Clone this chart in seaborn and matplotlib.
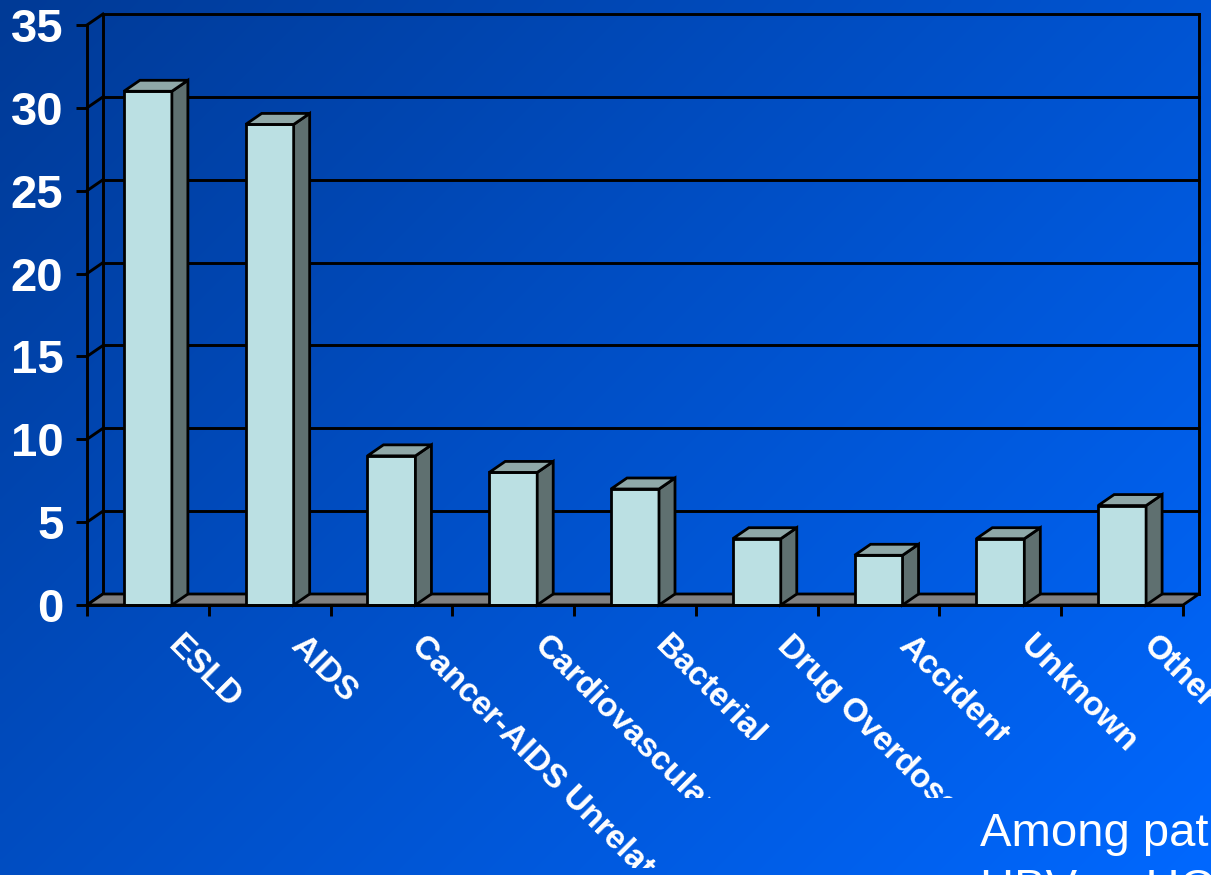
import numpy as np
import pandas as pd
import matplotlib
matplotlib.use("Agg")
import matplotlib.pyplot as plt
import seaborn as sns
from matplotlib.patches import Polygon
from matplotlib.transforms import Bbox

# ---- data ----
categories = ["ESLD", "AIDS", "Cancer-AIDS Unrelated", "Cardiovascular", "Bacterial",
              "Drug Overdose", "Accident", "Unknown", "Other"]
values = [31, 29, 9, 8, 7, 4, 3, 4, 6]
yticks = [0, 5, 10, 15, 20, 25, 30, 35]
note_lines = ["Among patients with", "HBV or HCV coinfection"]

# ---- style ----
sns.set_theme(style="white")
plt.rcParams["font.family"] = ["Liberation Sans", "DejaVu Sans"]

FRONT = "#BBE0E3"
SIDE = "#5F7070"
TOP = "#8FA8A8"
FLOOR = "#808080"

W, H, DPI = 1211, 875, 100
fig = plt.figure(figsize=(W / DPI, H / DPI), dpi=DPI)

# gradient background
bg = fig.add_axes([0, 0, 1, 1], zorder=-10)
gy, gx = np.mgrid[0:1:200j, 0:1:280j]
t = (gx * W + gy * H) / (W + H)
c0 = np.array([0, 58, 150]) / 255.0
c1 = np.array([0, 104, 255]) / 255.0
img = c0[None, None, :] * (1 - t[..., None]) + c1[None, None, :] * t[..., None]
bg.imshow(img, aspect="auto", extent=[0, 1, 0, 1], interpolation="bilinear")
bg.set_axis_off()

# main axes: front plane
L, R, B, T = 87, 1183, 605, 25
ax = fig.add_axes([L / W, (H - B) / H, (R - L) / W, (B - T) / H], zorder=0)
ax.set_facecolor("none")

df = pd.DataFrame({"cause": categories, "pct": values})
sns.barplot(data=df, x="cause", y="pct", ax=ax, color=FRONT, saturation=1,
            edgecolor="black", linewidth=2, width=0.394, zorder=3)
bars = list(ax.patches)

n = len(categories)
ax.set_xlim(-0.5, n - 0.5)
ax.set_ylim(0, 35)

# depth in data units (16 px right, 11 px up)
dx = 16 / ((R - L) / n)
dy = 11 / ((B - T) / 35)

lk = dict(color="black", lw=2.1, clip_on=False, solid_capstyle="projecting")
# back wall gridlines and diagonals
for v in yticks:
    ax.plot([-0.5 + dx, n - 0.5 + dx], [v + dy, v + dy], zorder=0.5, **lk)
    ax.plot([-0.5, -0.5 + dx], [v, v + dy], zorder=0.5, **lk)
ax.plot([-0.5 + dx, -0.5 + dx], [dy, 35 + dy], zorder=0.5, **lk)
ax.plot([n - 0.5 + dx, n - 0.5 + dx], [dy, 35 + dy], zorder=0.5, **lk)

# floor
floor = Polygon([(-0.5, 0), (n - 0.5, 0), (n - 0.5 + dx, dy), (-0.5 + dx, dy)],
                closed=True, facecolor=FLOOR, edgecolor="black", lw=2,
                zorder=1, clip_on=False)
ax.add_patch(floor)

# 3D faces of bars
for p in bars:
    x0, w, h = p.get_x(), p.get_width(), p.get_height()
    side = Polygon([(x0 + w, 0), (x0 + w + dx, dy), (x0 + w + dx, h + dy), (x0 + w, h)],
                   closed=True, facecolor=SIDE, edgecolor="black", lw=2,
                   zorder=3, clip_on=False, joinstyle="miter")
    top = Polygon([(x0, h), (x0 + dx, h + dy), (x0 + w + dx, h + dy), (x0 + w, h)],
                  closed=True, facecolor=TOP, edgecolor="black", lw=2,
                  zorder=3, clip_on=False, joinstyle="miter")
    ax.add_patch(side)
    ax.add_patch(top)
    p.set_clip_on(False)

# spines
for s in ["top", "right", "bottom"]:
    ax.spines[s].set_visible(False)
ax.spines["left"].set_color("black")
ax.spines["left"].set_linewidth(2.1)
ax.axhline(0, color="black", lw=2.1, zorder=3.5, clip_on=False)

# ticks
ax.set_yticks(yticks)
ax.set_yticklabels([str(v) for v in yticks])
ax.tick_params(axis="y", length=8, width=2.1, color="black", pad=9,
               labelsize=34, labelcolor="white", left=True)
for lab in ax.get_yticklabels():
    lab.set_fontweight("bold")

ax.set_xticks(np.arange(-0.5, n, 1.0))
ax.set_xticklabels([])
ax.tick_params(axis="x", length=8, width=2.1, color="black", direction="out", bottom=True)
ax.set_xlabel("")
ax.set_ylabel("")
ax.grid(False)

# category labels, rotated (clipped like the reference's label boxes)
clip_rows = {"Cancer-AIDS Unrelated": 868, "Cardiovascular": 798, "Bacterial": 740,
             "Drug Overdose": 798, "Accident": 740}
for i, lab in enumerate(categories):
    a = ax.annotate(lab, xy=(i, 0), xycoords="data", xytext=(36, -25),
                    textcoords="offset pixels", rotation=-45, rotation_mode="anchor",
                    ha="left", va="top", fontsize=24, fontweight="bold",
                    color="white", annotation_clip=False)
    clip_y = clip_rows.get(lab, H)
    a.set_clip_box(Bbox.from_extents(0, H - clip_y, W, H))
    a.set_clip_on(True)

# note text bottom right
fig.text(980 / W, (H - 846) / H, note_lines[0], fontsize=34, color="white",
         ha="left", va="baseline")
fig.text(980 / W, (H - 902) / H, note_lines[1], fontsize=34, color="white",
         ha="left", va="baseline")

fig.savefig("out.png", dpi=DPI)
